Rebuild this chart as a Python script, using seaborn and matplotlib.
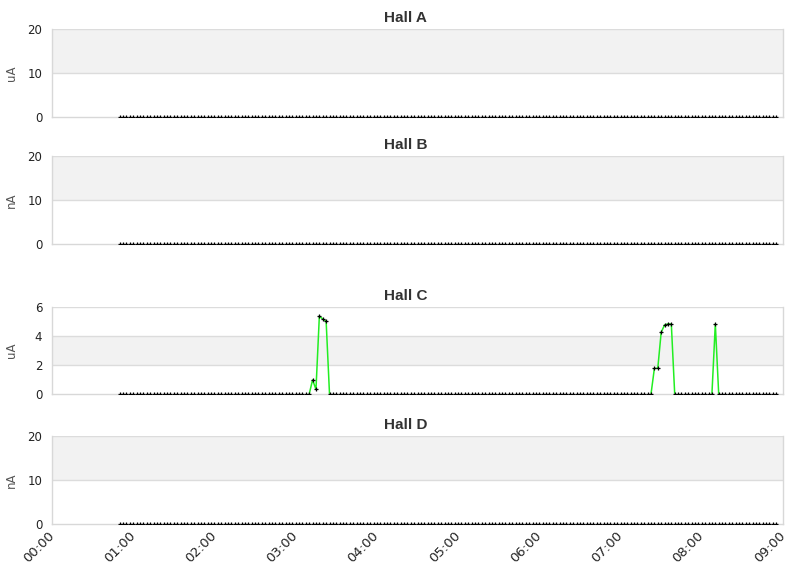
import numpy as np
import pandas as pd
import matplotlib
matplotlib.use("Agg")
import matplotlib.pyplot as plt
import matplotlib.dates as mdates
import seaborn as sns

# ----------------------------
# DATA
# ----------------------------
halls = ["Hall A", "Hall B", "Hall C", "Hall D"]
units = ["uA", "nA", "uA", "nA"]
y_max = [20, 20, 6, 20]
y_step = [10, 10, 2, 10]

# samples every 2.5 minutes from 00:50 to 08:55
times = pd.date_range("2024-01-01 00:50", periods=195, freq="150s")

hall_a = [0.0] * len(times)
hall_b = [0.0] * len(times)
hall_d = [0.0] * len(times)

# Hall C: zero except for a few bursts (index -> current)
hall_c_spikes = {
    57: 0.97, 58: 0.32, 59: 5.38, 60: 5.17, 61: 5.03,
    158: 1.77, 159: 1.77, 160: 4.25, 161: 4.76, 162: 4.83, 163: 4.83,
    176: 4.83,
}
hall_c = [hall_c_spikes.get(i, 0.0) for i in range(len(times))]

series = [hall_a, hall_b, hall_c, hall_d]

# ----------------------------
# LAYOUT
# ----------------------------
W, H = 811, 578
boxes = [(29, 117), (156, 244), (307, 394), (436, 524)]  # top, bottom in px
left_px, right_px = 52, 783

sns.set_theme(style="white")
plt.rcParams["font.family"] = ["DejaVu Sans"]

fig = plt.figure(figsize=(W / 100, H / 100), dpi=100)
fig.patch.set_facecolor("white")

x0 = pd.Timestamp("2024-01-01 00:00")
x1 = pd.Timestamp("2024-01-01 09:00")
title_x = (W / 2 - left_px) / (right_px - left_px)  # titles centred on the figure

for k, (name, unit, vals) in enumerate(zip(halls, units, series)):
    top, bot = boxes[k]
    ax = fig.add_axes([left_px / W, 1 - bot / H, (right_px - left_px) / W, (bot - top) / H])

    # alternating bands
    edges = np.arange(0, y_max[k] + y_step[k], y_step[k])
    for j in range(len(edges) - 1):
        if j % 2 == 1:
            ax.axhspan(edges[j], edges[j + 1], color="#f2f2f2", zorder=0, lw=0)
    for e in edges[1:]:
        ax.axhline(e, color="#dcdcdc", lw=1, zorder=0.5)

    df = pd.DataFrame({"time": times, "value": vals})
    v = df["value"].to_numpy()
    # hide the line where it just runs along the zero baseline
    prev_zero = np.r_[True, v[:-1] == 0]
    next_zero = np.r_[v[1:] == 0, True]
    line_vals = np.where((v == 0) & prev_zero & next_zero, np.nan, v)
    ax.plot(df["time"], line_vals, color="#22ee22", lw=1.1, zorder=2)

    sns.scatterplot(data=df, x="time", y="value", ax=ax, marker="+",
                    color="black", s=5, linewidth=0.9, zorder=3, legend=False)

    ax.set_xlim(x0, x1)
    ax.set_ylim(0, y_max[k])
    ax.set_yticks(edges)
    ax.set_ylabel(unit, fontsize=8.5, color="#555555")
    ax.yaxis.set_label_coords(-0.046, 0.5)
    ax.set_xlabel("")
    ax.set_title(name, fontsize=11, fontweight="bold", color="#333333", pad=5,
                 x=title_x, family=["Liberation Sans", "DejaVu Sans"])

    ax.xaxis.set_major_locator(mdates.HourLocator())
    ax.xaxis.set_major_formatter(mdates.DateFormatter("%H:%M"))
    ax.tick_params(axis="both", length=0, labelsize=8.5, colors="#222222", pad=7)
    if k < 3:
        ax.set_xticklabels([])
    else:
        for lab in ax.get_xticklabels():
            lab.set_rotation(45)
            lab.set_ha("right")
            lab.set_va("center")
            lab.set_rotation_mode("anchor")
            lab.set_fontsize(9.5)

    for s in ax.spines.values():
        s.set_color("#d8d8d8")
        s.set_linewidth(1)
    ax.spines["top"].set_visible(False)

fig.savefig("out.png", dpi=100, facecolor="white")
